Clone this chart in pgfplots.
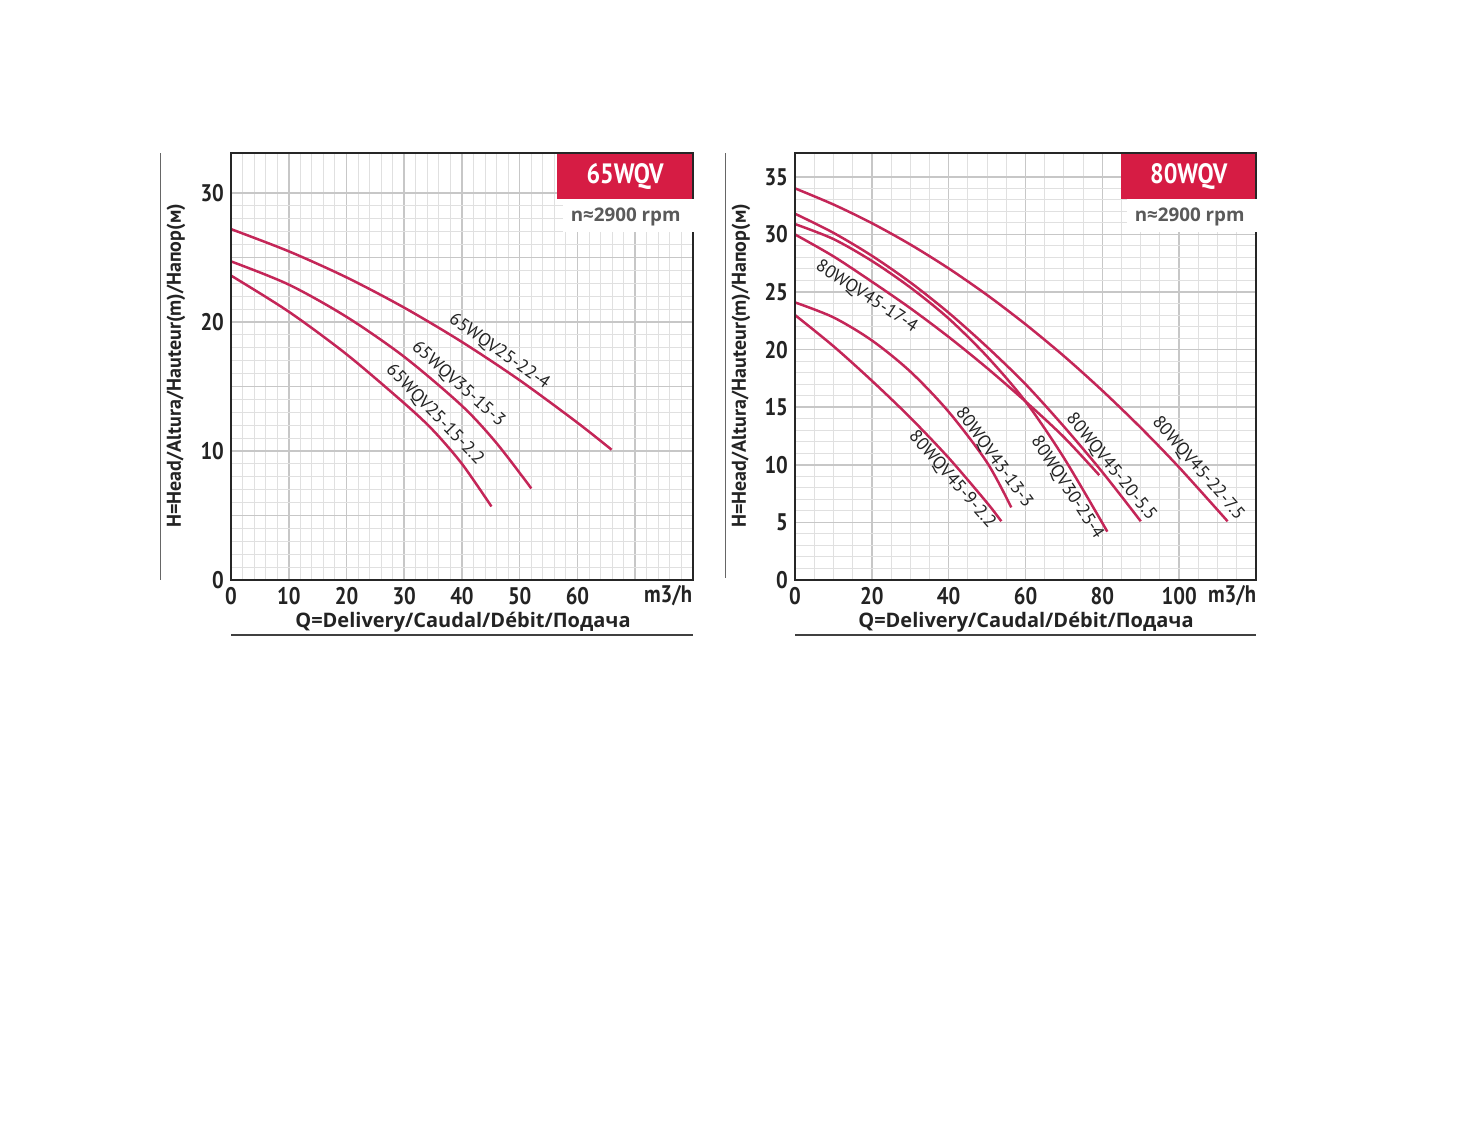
\documentclass[border=0pt]{standalone}
\usepackage{pgfplots}
\pgfplotsset{compat=1.18}
\usepackage{fontspec}
\setmainfont{PT Sans}
\newfontfamily\condfont[FakeStretch=0.86]{PT Sans}
\newfontfamily\osfont{Open Sans}
\definecolor{curve}{RGB}{196,38,88}
\definecolor{boxred}{RGB}{214,28,68}
\definecolor{txt}{RGB}{35,35,35}
\definecolor{rpm}{RGB}{90,90,90}

\pgfplotsset{
  pump/.style={
    scale only axis, clip=false,
    grid=both,
    major grid style={color=black!22, line width=0.75pt},
    minor grid style={color=black!12, line width=0.5pt},
    axis line style={draw=black!85, line width=1pt},
    tick style={draw=none},
    /pgf/number format/assume math mode=true,
    ticklabel style={font=\condfont\bfseries\fontsize{12}{12}\selectfont, text=txt},
  },
}
\tikzset{
  pc/.style={color=curve, line width=1.25pt, smooth, mark=none},
  lbl/.style={font=\fontsize{9}{9}\selectfont, text=txt, inner sep=0pt},
  lbls/.style={font=\fontsize{9}{9}\selectfont, text=txt, inner sep=2.5pt, anchor=south},
}

\begin{document}
\begin{tikzpicture}[x=0.5pt,y=-0.5pt]
\path[use as bounding box] (0,0) rectangle (1460,1120);

% ---- 65WQV ----
\begin{axis}[pump, at={(115.5pt,-290pt)}, anchor=south west,
  width=231pt, height=213.5pt,
  xmin=0, xmax=80, ymin=0, ymax=33.1,
  xtick={0,10,...,80}, xticklabels={0,10,20,30,40,50,60,{},{}},
  ytick={0,5,...,30}, yticklabels={0,{},10,{},20,{},30},
  minor x tick num=4, minor y tick num=4]
% 65WQV25-22-4
\addplot[pc] coordinates {(0,27.2)(10,25.48)(20,23.46)(30,21.11)(40,18.45)(50,15.48)(60,12.19)(65.9,10.1)};
% 65WQV35-15-3
\addplot[pc] coordinates {(0,24.7)(10,22.9)(20,20.4)(30,17.3)(40,13.5)(46,10.6)(52,7.1)};
% 65WQV25-15-2.2
\addplot[pc] coordinates {(0,23.6)(10,20.8)(20,17.5)(30,13.7)(35,11.6)(40,9.0)(45.1,5.7)};
\node[lbls, rotate=-35] at (axis cs:45.1,16.85) {65WQV25-22-4};
\node[lbls, rotate=-42] at (axis cs:37.8,14.4) {65WQV35-15-3};
\node[lbls, rotate=-46] at (axis cs:33.6,12.1) {65WQV25-15-2.2};
\draw[black!85, line width=1pt] (rel axis cs:0,0) rectangle (rel axis cs:1,1);
\fill[white] (rel axis cs:0.718,0.815) rectangle (rel axis cs:1.01,0.892);
\fill[boxred] (rel axis cs:0.7056,0.892) rectangle (rel axis cs:1,1);
\draw[black!85, line width=1pt] (rel axis cs:0.7056,1) -- (rel axis cs:1,1) -- (rel axis cs:1,0.892);
\node[text=white, font=\condfont\bfseries\fontsize{14}{14}\selectfont] at (rel axis cs:0.853,0.946) {65WQV};
\node[anchor=east, text=rpm, font=\osfont\bfseries\fontsize{9.4}{9.4}\selectfont, inner sep=0pt] at (rel axis cs:0.974,0.850) {n≈2900 rpm};
\end{axis}

% ---- 80WQV ----
\begin{axis}[pump, at={(397.5pt,-290pt)}, anchor=south west,
  width=230.5pt, height=213.5pt,
  xmin=0, xmax=120, ymin=0, ymax=37.07,
  xtick={0,20,...,120}, xticklabels={0,20,40,60,80,100,{}},
  ytick={0,5,...,35},
  minor x tick num=3, minor y tick num=4]
% 80WQV45-22-7.5
\addplot[pc] coordinates {(0,34)(10,32.6)(20,30.98)(30,29.13)(40,27.05)(50,24.74)(60,22.2)(70,19.44)(80,16.44)(90,13.22)(100,9.77)(112.6,5.1)};
% 80WQV45-20-5.5
\addplot[pc] coordinates {(0,31.8)(10,30.14)(20,28.15)(30,25.84)(40,23.2)(50,20.23)(60,17.0)(70,13.32)(80,9.37)(90,5.1)};
% 80WQV30-25-4
\addplot[pc] coordinates {(0,30.9)(10,29.6)(20,27.7)(30,25.4)(40,22.7)(50,19.4)(60,15.5)(70,10.6)(81.3,4.2)};
% 80WQV45-17-4
\addplot[pc] coordinates {(0,30)(10,28.1)(20,25.9)(30,23.6)(40,21.1)(50,18.4)(60,15.5)(70,12.4)(79.2,9.1)};
% 80WQV43-13-3
\addplot[pc] coordinates {(0,24.1)(10,22.8)(20,20.8)(30,18.1)(40,14.6)(50,10.2)(56.3,6.3)};
% 80WQV45-9-2.2
\addplot[pc] coordinates {(0,23.0)(10,20.3)(20,17.3)(30,14.1)(40,10.6)(50,6.7)(53.7,5.1)};
\node[lbl, rotate=-33] at (axis cs:18.6,24.6) {80WQV45-17-4};
\node[lbl, rotate=-49] at (axis cs:40.9,8.7) {80WQV45-9-2.2};
\node[lbl, rotate=-54] at (axis cs:51.8,10.6) {80WQV43-13-3};
\node[lbl, rotate=-57] at (axis cs:70.8,8.0) {80WQV30-25-4};
\node[lbl, rotate=-51] at (axis cs:82.3,9.8) {80WQV45-20-5.5};
\node[lbl, rotate=-49] at (axis cs:104.9,9.7) {80WQV45-22-7.5};
\draw[black!85, line width=1pt] (rel axis cs:0,0) rectangle (rel axis cs:1,1);
\fill[white] (rel axis cs:0.72,0.815) rectangle (rel axis cs:1.01,0.892);
\fill[boxred] (rel axis cs:0.7072,0.892) rectangle (rel axis cs:1,1);
\draw[black!85, line width=1pt] (rel axis cs:0.7072,1) -- (rel axis cs:1,1) -- (rel axis cs:1,0.892);
\node[text=white, font=\condfont\bfseries\fontsize{14}{14}\selectfont] at (rel axis cs:0.854,0.946) {80WQV};
\node[anchor=east, text=rpm, font=\osfont\bfseries\fontsize{9.4}{9.4}\selectfont, inner sep=0pt] at (rel axis cs:0.976,0.850) {n≈2900 rpm};
\end{axis}

% outer decorations
\draw[black!60, line width=0.5pt] (160,153) -- (160,580);
\draw[black!60, line width=0.5pt] (725,153) -- (725,578);
\draw[black!75, line width=0.6pt] (231,635) -- (693,635);
\draw[black!75, line width=0.6pt] (795,635) -- (1256,635);
\node[text=txt, font=\osfont\bfseries\fontsize{10}{10}\selectfont] at (463,622) {Q=Delivery/Caudal/Débit/Подача};
\node[text=txt, font=\osfont\bfseries\fontsize{10}{10}\selectfont] at (1026,622) {Q=Delivery/Caudal/Débit/Подача};
\node[rotate=90, text=txt, font=\bfseries\fontsize{10}{10}\selectfont] at (176,366) {H=Head/Altura/Hauteur(m)/Напор(м)};
\node[rotate=90, text=txt, font=\bfseries\fontsize{10}{10}\selectfont] at (741,366) {H=Head/Altura/Hauteur(m)/Напор(м)};
\node[text=txt, font=\condfont\bfseries\fontsize{12}{12}\selectfont] at (668,596) {m3/h};
\node[text=txt, font=\condfont\bfseries\fontsize{12}{12}\selectfont] at (1232,596) {m3/h};
\end{tikzpicture}
\end{document}
